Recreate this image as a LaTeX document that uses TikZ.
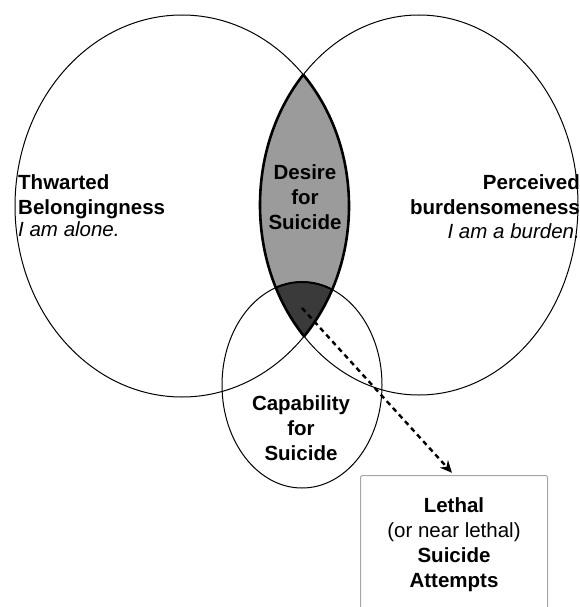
\documentclass[tikz,border=0pt]{standalone}
\usepackage{fontspec}
\setmainfont{Liberation Sans}
\usetikzlibrary{positioning,arrows.meta}

\definecolor{lensgray}{HTML}{9B9B9B}
\definecolor{coregray}{HTML}{3A3A3A}

\tikzset{
  belong/.style={insert path={(182,206) ellipse [x radius=167pt, y radius=191pt]}},
  burden/.style={insert path={(419,205) ellipse [x radius=159pt, y radius=190pt]}},
  capab/.style={insert path={(302,385) ellipse [x radius=80pt, y radius=103pt]}},
  ring/.style={line width=1pt},
  rim/.style={line width=2.6pt},
  head/.style={font=\fontsize{20.5}{25}\selectfont\bfseries, inner sep=0pt},
  outcome/.style={draw=gray!70, line width=1pt, rounded corners=2pt, align=center,
    minimum width=187pt, minimum height=139pt, font=\fontsize{20.5}{25}\selectfont},
}

\begin{document}
\begin{tikzpicture}[x=1pt,y=-1pt]
   \useasboundingbox (0,0) rectangle (579,607);
   \begin{scope}
      \clip[belong]; \fill[lensgray, burden];
   \end{scope}
   \begin{scope}
      \clip[belong]; \clip[burden]; \fill[coregray, capab];
   \end{scope}
   \draw[ring, belong]; \draw[ring, burden]; \draw[ring, capab];
   \begin{scope}
      \clip[belong]; \draw[rim, burden];
   \end{scope}
   \begin{scope}
      \clip[burden]; \draw[rim, belong];
   \end{scope}
   \begin{scope}
      \clip[belong]; \clip[burden]; \draw[line width=2pt, capab];
   \end{scope}

   \node[head, align=left, anchor=west]    (thwarted)  at (18,206)
        {Thwarted\\Belongingness\\[-3pt]{\mdseries\itshape I am alone.}};
   \node[head, align=right, anchor=east]   (perceived) at (580,207)
        {Perceived\\burdensomeness\\[-1pt]{\mdseries\itshape I am a burden.}};
   \node[head, align=center]               (desire)    at (305,197) {Desire\\for\\Suicide};
   \node[head, align=center]               (capable)   at (301,428) {Capability\\for\\Suicide};
   \node[outcome, anchor=north]            (attempts)  at (454,475)
        {\textbf{Lethal}\\(or near lethal)\\\textbf{Suicide}\\\textbf{Attempts}};

   \coordinate (core) at (302,308);
   \draw[line width=2.4pt, dash pattern=on 5pt off 4pt, shorten >=3pt,
         -{Stealth[length=12pt, width=11pt]}] (core) -- (attempts.north);
\end{tikzpicture}
\end{document}
